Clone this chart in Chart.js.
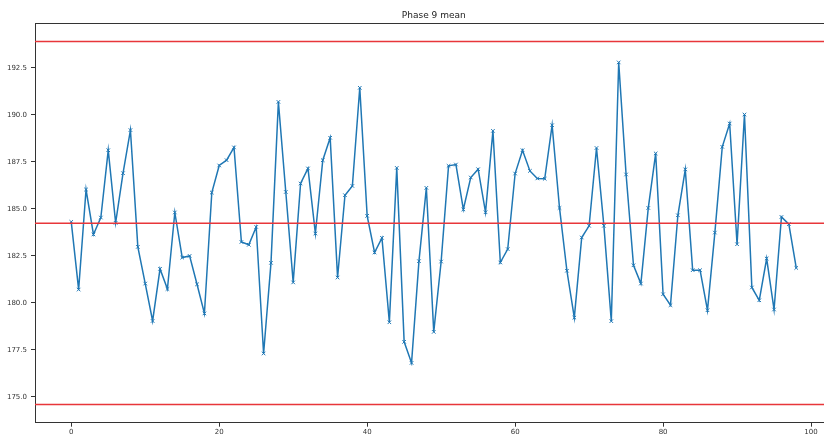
<!DOCTYPE html>
<html>
<head>
<meta charset="utf-8">
<script src="https://cdn.jsdelivr.net/npm/chart.js@4"></script>
<style>
  html, body { margin: 0; padding: 0; background: #fff; overflow: hidden; }
  canvas { display: block; }
</style>
</head>
<body>
<canvas id="phaseChart" width="840" height="437"></canvas>
<script>
// chart values
const titleText = "Phase 9 mean";
const phaseMeans = [
  184.31, 180.71, 186.03, 183.64, 184.54, 188.12, 184.26, 186.90, 189.19, 182.98,
  181.03, 179.04, 181.81, 180.74, 184.81, 182.41, 182.50, 180.99, 179.44, 185.87,
  187.31, 187.59, 188.27, 183.24, 183.09, 184.04, 177.31, 182.13, 190.69, 185.90,
  181.09, 186.35, 187.15, 183.69, 187.59, 188.78, 181.35, 185.73, 186.22, 191.44,
  184.63, 182.68, 183.46, 178.97, 187.18, 177.93, 176.81, 182.22, 186.12, 178.46,
  182.20, 187.29, 187.36, 184.97, 186.67, 187.11, 184.82, 189.15, 182.15, 182.86,
  186.88, 188.12, 187.02, 186.62, 186.60, 189.45, 185.05, 181.71, 179.22, 183.48,
  184.10, 188.24, 184.10, 179.03, 192.79, 186.83, 182.00, 181.03, 185.05, 187.95,
  180.46, 179.88, 184.66, 187.10, 181.74, 181.74, 179.61, 183.74, 188.30, 189.54,
  183.12, 190.02, 180.82, 180.14, 182.36, 179.65, 184.57, 184.19, 181.86
];
const upperLimit = 193.9;
const centerLine = 184.24;
const lowerLimit = 174.6;

const xTicks = [0, 20, 40, 60, 80, 100];
const yTicks = [175.0, 177.5, 180.0, 182.5, 185.0, 187.5, 190.0, 192.5];
const xRange = [-4.9, 102.9];
const yRange = [173.63, 194.87];

const axisColor = "#333333";
const lineBlue = "#1f77b4";
const limitRed = "#e8363a";

Chart.defaults.font.family = "'DejaVu Sans', sans-serif";

function hLine(value) {
  return {
    data: [{ x: xRange[0], y: value }, { x: xRange[1], y: value }],
    borderColor: limitRed,
    borderWidth: 1.5,
    pointRadius: 0,
    order: 0,
  };
}

const ctx = document.getElementById("phaseChart").getContext("2d");

new Chart(ctx, {
  type: "line",
  data: {
    datasets: [
      {
        data: phaseMeans.map((v, i) => ({ x: i, y: v })),
        borderColor: lineBlue,
        backgroundColor: lineBlue,
        borderWidth: 1.5,
        pointStyle: "crossRot",
        pointRadius: 2.5,
        pointBorderWidth: 1,
        pointBorderColor: lineBlue,
        tension: 0,
        order: 1,
      },
      hLine(upperLimit),
      hLine(centerLine),
      hLine(lowerLimit),
    ],
  },
  options: {
    responsive: false,
    animation: false,
    devicePixelRatio: 1,
    layout: { padding: { left: 0, right: 7.5, top: 0, bottom: 0 } },
    plugins: {
      legend: { display: false },
      tooltip: { enabled: false },
      title: {
        display: true,
        text: titleText,
        fullSize: false,
        color: "#222",
        font: { size: 9, weight: "normal", lineHeight: 1.2 },
        padding: { top: 10, bottom: 2.5 },
      },
    },
    scales: {
      x: {
        type: "linear",
        position: "bottom",
        min: xRange[0],
        max: xRange[1],
        afterBuildTicks: (s) => { s.ticks = xTicks.map((v) => ({ value: v })); },
        afterFit: (s) => { s.height = 14.3; },
        ticks: { font: { size: 7 }, color: axisColor, padding: 1, maxRotation: 0, autoSkip: false },
        grid: { drawOnChartArea: false, drawTicks: true, tickLength: 4, tickColor: axisColor },
        border: { display: true, color: axisColor, width: 1 },
      },
      xTop: {
        type: "linear",
        position: "top",
        min: xRange[0],
        max: xRange[1],
        ticks: { display: false },
        grid: { drawOnChartArea: false, drawTicks: false },
        border: { display: true, color: axisColor, width: 1 },
        afterFit: (s) => { s.height = 0; },
      },
      y: {
        type: "linear",
        position: "left",
        min: yRange[0],
        max: yRange[1],
        afterBuildTicks: (s) => { s.ticks = yTicks.map((v) => ({ value: v })); },
        afterFit: (s) => { s.width = 35; },
        ticks: {
          font: { size: 7 },
          color: axisColor,
          padding: 4,
          callback: (v) => Number(v).toFixed(1),
        },
        grid: { drawOnChartArea: false, drawTicks: true, tickLength: 4, tickColor: axisColor },
        border: { display: true, color: axisColor, width: 1 },
      },
    },
  },
});
</script>
</body>
</html>
